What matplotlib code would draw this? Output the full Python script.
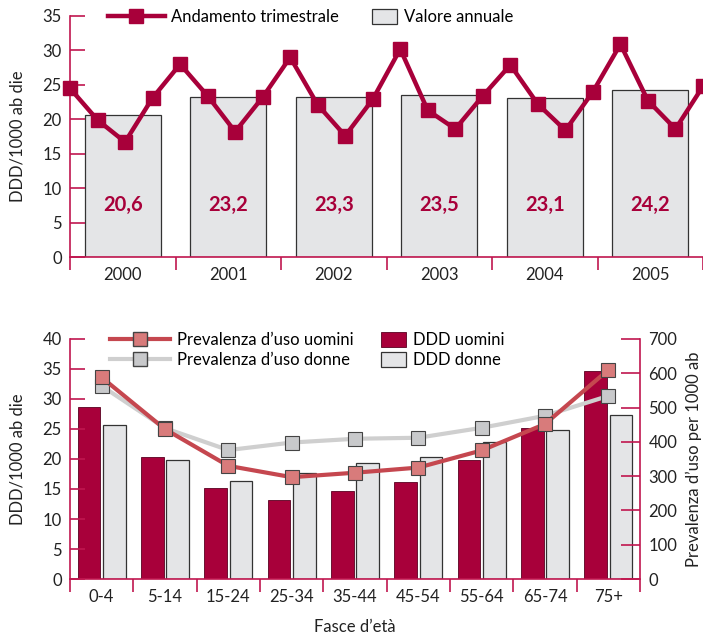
import numpy as np
import matplotlib.pyplot as plt
from matplotlib.lines import Line2D
from matplotlib.patches import Patch

plt.rcParams['font.family'] = ['Lato', 'DejaVu Sans']
plt.rcParams['font.size'] = 11

# annual consumption and quarterly trend
years = ['2000', '2001', '2002', '2003', '2004', '2005']
annual = [20.6, 23.2, 23.3, 23.5, 23.1, 24.2]
quarterly = [24.5, 19.9, 16.7, 23.1, 28.0, 23.4, 18.2, 23.2,
             29.0, 22.1, 17.6, 22.9, 30.2, 21.3, 18.6, 23.4,
             27.9, 22.2, 18.4, 24.0, 30.9, 22.7, 18.6, 24.8]

# age-group breakdown
ages = ['0-4', '5-14', '15-24', '25-34', '35-44', '45-54', '55-64', '65-74', '75+']
ddd_men = [28.6, 20.4, 15.1, 13.1, 14.6, 16.1, 19.8, 25.2, 34.7]
ddd_women = [25.6, 19.8, 16.4, 17.7, 19.3, 20.3, 22.9, 24.8, 27.4]
prev_men = [588, 437, 330, 297, 310, 325, 375, 452, 610]
prev_women = [563, 440, 376, 398, 409, 412, 441, 476, 534]

CRIMSON = '#a8003a'
SPINE = '#c0164f'
BAR_GRAY = '#e4e5e7'
EDGE = '#333333'
TEXT = '#222222'
MEN_LINE = '#c5474f'
MEN_MARK = '#d87b7b'
WOMEN_LINE = '#cfcfcf'
WOMEN_MARK = '#c8c9cb'
TICK_FS = 12
LEG_FS = 12

fig = plt.figure(figsize=(7.03, 6.37), dpi=100)


def style_axis(ax, right=False):
    for side in ['top', 'right', 'left', 'bottom']:
        ax.spines[side].set_visible(False)
    ax.spines['bottom'].set_visible(True)
    ax.spines['bottom'].set_color(SPINE)
    ax.spines['bottom'].set_linewidth(1.2)
    side = 'right' if right else 'left'
    ax.spines[side].set_visible(True)
    ax.spines[side].set_color(SPINE)
    ax.spines[side].set_linewidth(1.2)
    ax.tick_params(axis='y', direction='in', length=11, color=SPINE, width=1.2,
                   labelcolor=TEXT, labelsize=TICK_FS, pad=6)


# ---- top chart ----
ax1 = fig.add_axes([70 / 703, 1 - 257 / 637, 633 / 703, 241 / 637])
x = np.arange(len(years))
ax1.bar(x, annual, width=0.72, color=BAR_GRAY, edgecolor=EDGE, linewidth=0.9, zorder=1)
for xi, v in zip(x, annual):
    ax1.text(xi, 7.5, f'{v:.1f}'.replace('.', ','), ha='center', va='center',
             color=CRIMSON, fontsize=14.5, fontweight='bold')

qx = -0.5 + np.arange(len(quarterly)) * 6 / (len(quarterly) - 1)
ax1.plot(qx, quarterly, color=CRIMSON, lw=3.2, marker='s', ms=10,
         markeredgecolor=CRIMSON, zorder=3, clip_on=False)

ax1.set_xlim(-0.5, 5.5)
ax1.set_ylim(0, 35)
ax1.set_yticks(range(0, 36, 5))
ax1.set_xticks(np.arange(-0.5, 6, 1))
ax1.set_xticklabels([])
ax1.set_xticks(x, minor=True)
ax1.set_xticklabels(years, minor=True)
style_axis(ax1)
ax1.tick_params(axis='x', which='major', direction='out', length=9, color=SPINE, width=1.2)
ax1.tick_params(axis='x', which='minor', length=0, labelsize=TICK_FS, labelcolor=TEXT, pad=7)
ax1.set_ylabel('DDD/1000 ab die', fontsize=12, color=TEXT, labelpad=12)

fig.legend(handles=[Line2D([], [], color=CRIMSON, lw=3.2, marker='s', ms=10)],
           labels=['Andamento trimestrale'], loc='center left',
           bbox_to_anchor=(108 / 703, 1 - 17 / 637), frameon=False,
           handlelength=3.4, handletextpad=0.4, fontsize=LEG_FS,
           borderaxespad=0, borderpad=0)
fig.legend(handles=[Patch(facecolor=BAR_GRAY, edgecolor=EDGE, linewidth=0.9)],
           labels=['Valore annuale'], loc='center left',
           bbox_to_anchor=(372 / 703, 1 - 17 / 637), frameon=False,
           handlelength=1.5, handleheight=1.0, handletextpad=0.4, fontsize=LEG_FS,
           borderaxespad=0, borderpad=0)

# ---- bottom chart ----
ax2 = fig.add_axes([70 / 703, 1 - 579 / 637, 570 / 703, 240 / 637])
xa = np.arange(len(ages))
ax2.bar(xa - 0.2, ddd_men, width=0.36, color=CRIMSON, edgecolor='#5a0020',
        linewidth=0.6, zorder=1)
ax2.bar(xa + 0.2, ddd_women, width=0.36, color=BAR_GRAY, edgecolor=EDGE,
        linewidth=0.9, zorder=1)
ax2.set_xlim(-0.5, len(ages) - 0.5)
ax2.set_ylim(0, 40)
ax2.set_yticks(range(0, 41, 5))
ax2.set_xticks(np.arange(-0.5, len(ages), 1))
ax2.set_xticklabels([])
ax2.set_xticks(xa, minor=True)
ax2.set_xticklabels(ages, minor=True)
style_axis(ax2)
ax2.tick_params(axis='x', which='major', direction='out', length=9, color=SPINE, width=1.2)
ax2.tick_params(axis='x', which='minor', length=0, labelsize=TICK_FS, labelcolor=TEXT, pad=7)
ax2.set_ylabel('DDD/1000 ab die', fontsize=12, color=TEXT, labelpad=12)
ax2.set_xlabel("Fasce d\u2019et\u00e0", fontsize=12, color=TEXT, labelpad=10)

ax3 = ax2.twinx()
ax3.plot(xa, prev_women, color=WOMEN_LINE, lw=3, marker='s', ms=10,
         markerfacecolor=WOMEN_MARK, markeredgecolor='#444444', markeredgewidth=0.8, zorder=3)
ax3.plot(xa, prev_men, color=MEN_LINE, lw=3, marker='s', ms=10,
         markerfacecolor=MEN_MARK, markeredgecolor='#444444', markeredgewidth=0.8, zorder=4)
ax3.set_ylim(0, 700)
ax3.set_yticks(range(0, 701, 100))
style_axis(ax3, right=True)
ax3.spines['bottom'].set_visible(False)
ax3.tick_params(axis='y', direction='in', length=14, color=SPINE, width=1.2,
                labelcolor=TEXT, labelsize=TICK_FS, pad=6)
ax3.set_ylabel('Prevalenza d\u2019uso per 1000 ab', fontsize=12, color=TEXT, labelpad=6)

fig.legend(handles=[Line2D([], [], color=MEN_LINE, lw=3, marker='s', ms=10,
                           markerfacecolor=MEN_MARK, markeredgecolor='#444444'),
                    Line2D([], [], color=WOMEN_LINE, lw=3, marker='s', ms=10,
                           markerfacecolor=WOMEN_MARK, markeredgecolor='#444444')],
           labels=['Prevalenza d\u2019uso uomini', 'Prevalenza d\u2019uso donne'],
           loc='center left', bbox_to_anchor=(110 / 703, 1 - 350 / 637),
           frameon=False, handlelength=3.6, handletextpad=0.4, fontsize=LEG_FS,
           labelspacing=0.25, borderaxespad=0, borderpad=0)
fig.legend(handles=[Patch(facecolor=CRIMSON, edgecolor='#5a0020', linewidth=0.6),
                    Patch(facecolor=BAR_GRAY, edgecolor=EDGE, linewidth=0.9)],
           labels=['DDD uomini', 'DDD donne'], loc='center left',
           bbox_to_anchor=(381 / 703, 1 - 350 / 637), frameon=False,
           handlelength=1.5, handleheight=1.0, handletextpad=0.4, fontsize=LEG_FS,
           labelspacing=0.25, borderaxespad=0, borderpad=0)

fig.savefig('out.png', dpi=100)
